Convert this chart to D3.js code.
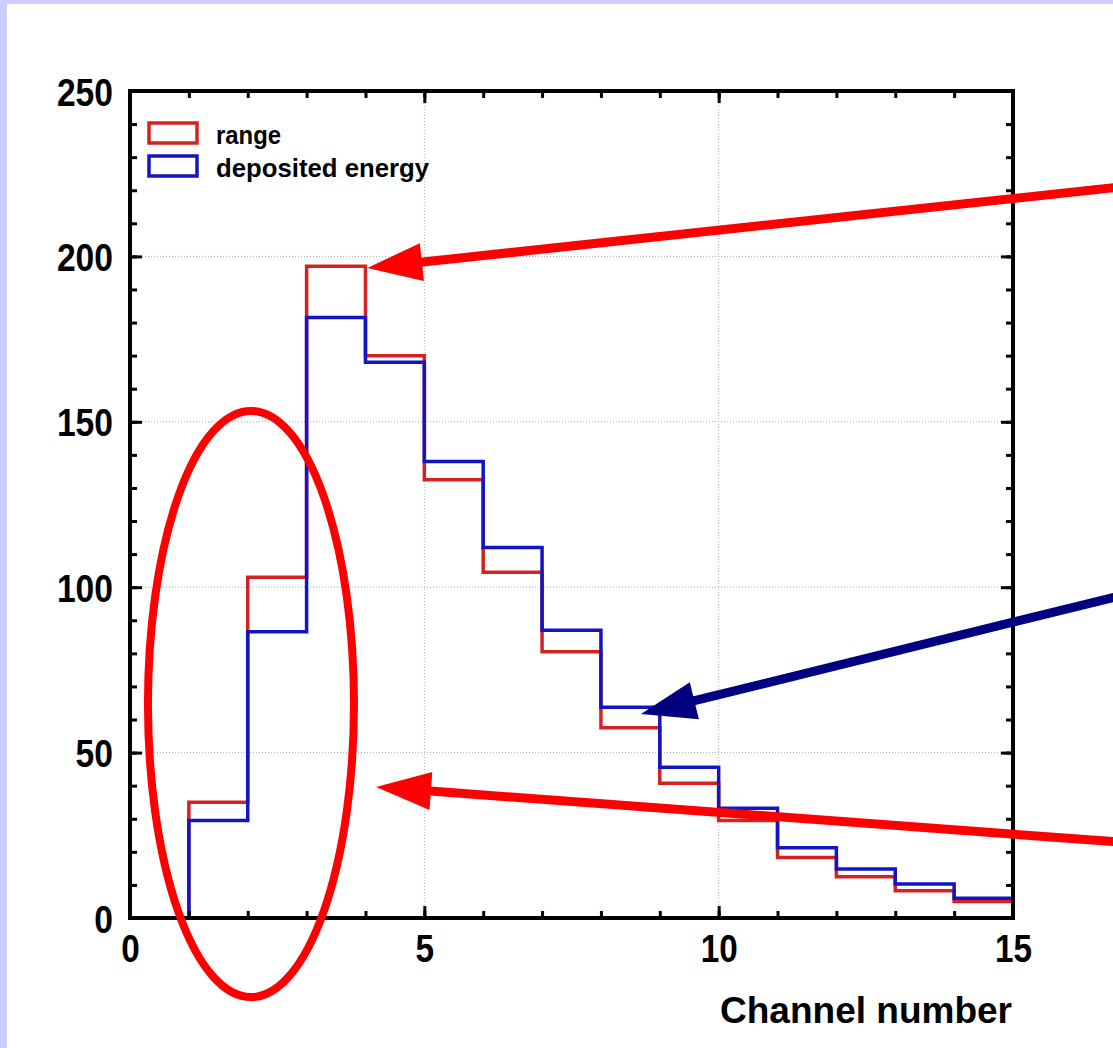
<!DOCTYPE html>
<html>
<head>
<meta charset="utf-8">
<script src="https://cdn.jsdelivr.net/npm/d3@7"></script>
<style>
  body { margin: 0; background: #fff; }
  text { font-family: "Liberation Sans", Arial, Helvetica, sans-serif; font-weight: bold; }
</style>
</head>
<body>
<svg id="chart" width="1113" height="1048"></svg>
<script>
// histogram data, one value per channel bin [i, i+1)
var binEdges = [0, 1, 2, 3, 4, 5, 6, 7, 8, 9, 10, 11, 12, 13, 14, 15];
var rangeCounts  = [0, 35, 103, 197, 170, 132.5, 104.5, 80.5, 57.5, 40.7, 29.5, 18.3, 12.5, 8.2, 5];
var energyCounts = [0, 29.5, 86.5, 181.5, 168, 138, 112, 87, 63.7, 45.6, 33.2, 21.2, 14.8, 10.3, 6];

var xTicks = [0, 5, 10, 15];
var yTicks = [0, 50, 100, 150, 200, 250];
var seriesNames = ['range', 'deposited energy'];
var xTitle = 'Channel number';

// hand drawn annotations, in data units (tail -> tip)
var arrows = [
    {tail: [17.0, 221.3], tip: [4.03, 196.5], color: '#ff0000'},
    {tail: [17.0, 98.2], tip: [8.68, 61.7], color: '#000080'},
    {tail: [17.0, 22.7], tip: [4.18, 39.6], color: '#ff0000'}
];
var ellipse = {cx: 2.055, cy: 64.7, rx: 1.75, ry: 88.6};

function drawChart()
{
    const left = 130, top = 91;
    const width = 883, height = 827;

    var svg = d3.select('#chart');

    // lavender page edge
    svg.append('rect').attr('width', 1113).attr('height', 1048).style('fill', '#ccccff');
    svg.append('rect').attr('x', 7).attr('y', 4).attr('width', 1113).attr('height', 1048).style('fill', '#fff');

    var chart = svg.append('g').attr('transform', `translate(${left}, ${top})`);

    var xScale = d3.scaleLinear().domain([0, 15]).range([0, width]);
    var yScale = d3.scaleLinear().domain([0, 250]).range([height, 0]);

    // dotted grid
    chart.selectAll('.vgrid').data([5, 10]).enter().append('line')
        .attr('x1', d => xScale(d)).attr('x2', d => xScale(d))
        .attr('y1', 0).attr('y2', height)
        .style('stroke', '#aaa').style('stroke-dasharray', '1,2');
    chart.selectAll('.hgrid').data([50, 100, 150, 200]).enter().append('line')
        .attr('x1', 0).attr('x2', width)
        .attr('y1', d => yScale(d)).attr('y2', d => yScale(d))
        .style('stroke', '#aaa').style('stroke-dasharray', '1,2');

    // histograms as step outlines
    var line = d3.line()
        .x(d => xScale(d[0]))
        .y(d => yScale(d[1]))
        .curve(d3.curveStepAfter);

    function steps(counts)
    {
        var pts = counts.map((c, i) => [binEdges[i], c]);
        pts.push([binEdges[counts.length], counts[counts.length - 1]]);
        return pts;
    }

    chart.append('path').attr('d', line(steps(rangeCounts)))
        .style('fill', 'none').style('stroke', '#d42222').style('stroke-width', 3.5);
    chart.append('path').attr('d', line(steps(energyCounts)))
        .style('fill', 'none').style('stroke', '#1414c4').style('stroke-width', 3.5);

    // ticks on all four sides, pointing inward
    var xMinor = d3.range(0, 16, 1), yMinor = d3.range(0, 251, 10);
    function tickAxis(axis, transform)
    {
        var g = chart.append('g').attr('transform', transform).call(axis);
        g.select('.domain').remove();
        g.selectAll('line').style('stroke', '#000').style('stroke-width', 3);
        return g;
    }
    tickAxis(d3.axisBottom(xScale).tickValues(xMinor).tickSize(-7).tickFormat(''), `translate(0, ${height})`);
    tickAxis(d3.axisTop(xScale).tickValues(xMinor).tickSize(-7).tickFormat(''), 'translate(0, 0)');
    tickAxis(d3.axisTop(xScale).tickValues(xTicks).tickSize(-12).tickFormat(''), 'translate(0, 0)');
    tickAxis(d3.axisLeft(yScale).tickValues(yMinor).tickSize(-7).tickFormat(''), 'translate(0, 0)');
    tickAxis(d3.axisRight(yScale).tickValues(yMinor).tickSize(-7).tickFormat(''), `translate(${width}, 0)`);
    tickAxis(d3.axisRight(yScale).tickValues(yTicks).tickSize(-12).tickFormat(''), `translate(${width}, 0)`);

    var xAxis = tickAxis(d3.axisBottom(xScale).tickValues(xTicks).tickSize(-12), `translate(0, ${height})`);
    xAxis.selectAll('text')
        .attr('dy', null).attr('y', 44)
        .attr('fill', '#000')
        .style('font-size', '38px')
        .attr('textLength', d => String(d).length * 18.5)
        .attr('lengthAdjust', 'spacingAndGlyphs');

    var yAxis = tickAxis(d3.axisLeft(yScale).tickValues(yTicks).tickSize(-12), 'translate(0, 0)');
    yAxis.selectAll('text')
        .attr('dy', null).attr('x', -17).attr('y', 14)
        .attr('fill', '#000')
        .style('font-size', '38px')
        .attr('textLength', d => String(d).length * 18.7)
        .attr('lengthAdjust', 'spacingAndGlyphs');

    // frame
    chart.append('rect')
        .attr('width', width).attr('height', height)
        .style('fill', 'none').style('stroke', '#000').style('stroke-width', 4);

    // axis title
    chart.append('text')
        .attr('text-anchor', 'end')
        .attr('x', width - 1)
        .attr('y', height + 105)
        .style('font-size', '36px')
        .attr('textLength', 292).attr('lengthAdjust', 'spacingAndGlyphs')
        .text(xTitle);

    // legend
    var legendColors = ['#d42222', '#1414c4'];
    seriesNames.forEach(function (name, i) {
        chart.append('rect')
            .attr('x', 19).attr('y', 32 + i * 33)
            .attr('width', 48).attr('height', 20)
            .style('fill', 'none').style('stroke', legendColors[i]).style('stroke-width', 3.5);
        chart.append('text')
            .attr('x', 86).attr('y', 53 + i * 33)
            .style('font-size', '26px')
            .attr('textLength', i == 0 ? 65 : 213).attr('lengthAdjust', 'spacingAndGlyphs')
            .text(name);
    });

    // annotations
    chart.append('ellipse')
        .attr('cx', xScale(ellipse.cx)).attr('cy', yScale(ellipse.cy))
        .attr('rx', xScale(ellipse.rx) - xScale(0)).attr('ry', yScale(0) - yScale(ellipse.ry))
        .style('fill', 'none').style('stroke', '#ff0000').style('stroke-width', 8);

    arrows.forEach(function (a) {
        var x1 = xScale(a.tail[0]), y1 = yScale(a.tail[1]);
        var x2 = xScale(a.tip[0]), y2 = yScale(a.tip[1]);
        var dx = x2 - x1, dy = y2 - y1, len = Math.hypot(dx, dy);
        var ux = dx / len, uy = dy / len;
        var L = 55, H = 19;
        var bx = x2 - ux * L, by = y2 - uy * L;
        chart.append('line')
            .attr('x1', x1).attr('y1', y1)
            .attr('x2', bx + ux * 4).attr('y2', by + uy * 4)
            .style('stroke', a.color).style('stroke-width', 9);
        chart.append('polygon')
            .attr('points', [[x2, y2], [bx - uy * H, by + ux * H], [bx + uy * H, by - ux * H]].join(' '))
            .style('fill', a.color);
    });
}

drawChart();
</script>
</body>
</html>
